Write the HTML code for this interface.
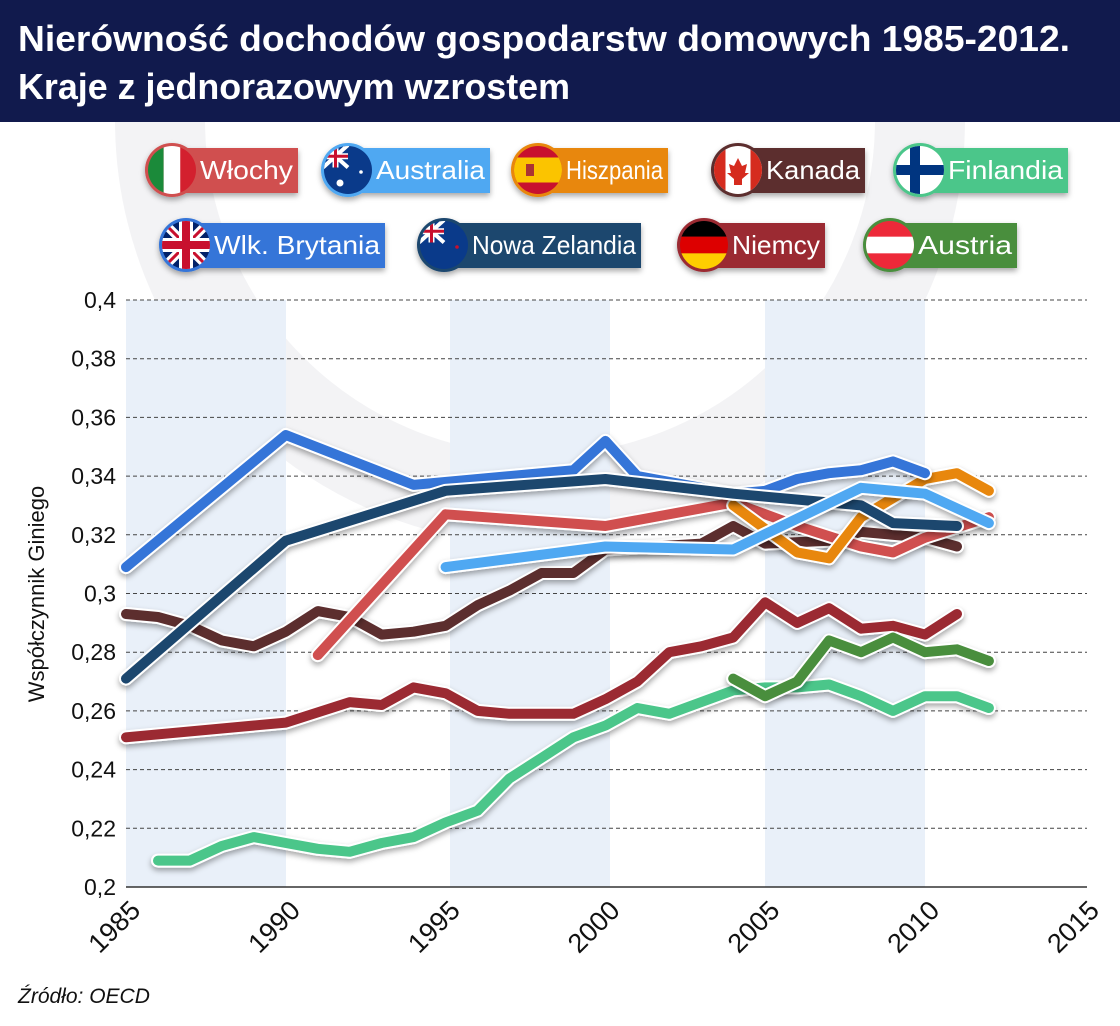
<!DOCTYPE html>
<html><head><meta charset="utf-8"><style>
body{margin:0;width:1120px;height:1021px;overflow:hidden;background:#fff;font-family:"Liberation Sans",sans-serif}
</style></head><body>
<svg id="s" width="1120" height="1021" xmlns="http://www.w3.org/2000/svg" font-family="Liberation Sans, sans-serif">
<defs>
<filter id="sh" x="-10%" y="-10%" width="120%" height="130%"><feDropShadow dx="0" dy="3" stdDeviation="3" flood-color="#000" flood-opacity="0.35"/></filter>
</defs>
<rect width="1120" height="1021" fill="#fff"/>
<circle cx="540" cy="120" r="380" fill="none" stroke="#f3f3f5" stroke-width="90"/>
<rect x="126" y="300" width="160" height="587" fill="#e9f0f9"/>
<rect x="450" y="300" width="160" height="587" fill="#e9f0f9"/>
<rect x="765" y="300" width="160" height="587" fill="#e9f0f9"/>
<rect width="1120" height="122" fill="#111a4d"/>
<text x="18" y="51" fill="#fff" font-size="36" font-weight="bold" textLength="1052" lengthAdjust="spacingAndGlyphs">Nierówność dochodów gospodarstw domowych 1985-2012.</text>
<text x="18" y="99" fill="#fff" font-size="36" font-weight="bold" textLength="552" lengthAdjust="spacingAndGlyphs">Kraje z jednorazowym wzrostem</text>
<g id="grid"></g>
<g id="lines"></g>
<g id="leg"></g>
<text transform="translate(44,594) rotate(-90)" text-anchor="middle" font-size="22" fill="#111">Współczynnik Giniego</text>
<text x="18" y="1003" font-size="21" font-style="italic" fill="#111">Źródło: OECD</text>
</svg>
<script>
var NS="http://www.w3.org/2000/svg",s=document.getElementById('s');
function el(p,t,a,txt){var e=document.createElementNS(NS,t);for(var k in a)e.setAttribute(k,a[k]);if(txt)e.textContent=txt;p.appendChild(e);return e;}
var X=function(y){return 126+(y-1985)*31.96},Y=function(v){return 887-(v-0.2)*2935};
var g=document.getElementById('grid');
for(var i=0;i<=10;i++){var v=0.2+i*0.02,y=Y(v);
 if(i>0)el(g,'line',{x1:126,x2:1087,y1:y,y2:y,stroke:'#444','stroke-width':1,'stroke-dasharray':'4,3'});
 el(g,'text',{x:116,y:y+8,'text-anchor':'end','font-size':23,fill:'#111'},v.toFixed(2).replace(/0+$/,'').replace(/\.$/,'').replace('.',','));}
el(g,'line',{x1:126,x2:1087,y1:887,y2:887,stroke:'#333','stroke-width':1.5});
for(var yr=1985;yr<=2015;yr+=5){var x=X(yr);el(g,'text',{transform:'translate('+(x+16)+',912) rotate(-45)','text-anchor':'end','font-size':27,fill:'#111'},''+yr);}
var D=[
['#9b2a32',[[1985,.251],[1990,.256],[1992,.263],[1993,.262],[1994,.268],[1995,.266],[1996,.260],[1997,.259],[1999,.259],[2000,.264],[2001,.270],[2002,.280],[2003,.282],[2004,.285],[2005,.297],[2006,.290],[2007,.295],[2008,.288],[2009,.289],[2010,.286],[2011,.293]]],
['#4bc68a',[[1986,.209],[1987,.209],[1988,.214],[1989,.217],[1990,.215],[1991,.213],[1992,.212],[1993,.215],[1994,.217],[1995,.222],[1996,.226],[1997,.237],[1998,.244],[1999,.251],[2000,.255],[2001,.261],[2002,.259],[2003,.263],[2004,.267],[2005,.268],[2006,.268],[2007,.269],[2008,.265],[2009,.260],[2010,.265],[2011,.265],[2012,.261]]],
['#4a8e3e',[[2004,.271],[2005,.265],[2006,.270],[2007,.284],[2008,.280],[2009,.285],[2010,.280],[2011,.281],[2012,.277]]],
['#5c2d2f',[[1985,.293],[1986,.292],[1987,.289],[1988,.284],[1989,.282],[1990,.287],[1991,.294],[1992,.292],[1993,.286],[1994,.287],[1995,.289],[1996,.296],[1997,.301],[1998,.307],[1999,.307],[2000,.315],[2003,.317],[2004,.323],[2005,.317],[2007,.318],[2008,.321],[2010,.319],[2011,.316]]],
['#d04f4f',[[1991,.279],[1995,.327],[2000,.323],[2004,.331],[2006,.323],[2008,.316],[2009,.314],[2010,.319],[2012,.326]]],
['#e8870a',[[2004,.330],[2006,.314],[2007,.312],[2008,.326],[2010,.339],[2011,.341],[2012,.335]]],
['#3575d8',[[1985,.309],[1990,.354],[1994,.337],[1999,.342],[2000,.352],[2001,.340],[2004,.334],[2005,.335],[2006,.339],[2007,.341],[2008,.342],[2009,.345],[2010,.341]]],
['#1d466e',[[1985,.271],[1990,.318],[1995,.335],[2000,.339],[2004,.334],[2008,.330],[2009,.324],[2011,.323]]],
['#4fa8f2',[[1995,.309],[2000,.316],[2004,.315],[2008,.336],[2010,.334],[2012,.324]]]
];
var L=document.getElementById('lines');
D.forEach(function(d){var p=d[1].map(function(q){return X(q[0]).toFixed(1)+','+Y(q[1]).toFixed(1)}).join(' ');
 var gg=el(L,'g',{filter:'url(#sh)'});
 el(gg,'polyline',{points:p,fill:'none',stroke:'#fff','stroke-width':14,'stroke-linejoin':'round','stroke-linecap':'round'});
 el(gg,'polyline',{points:p,fill:'none',stroke:d[0],'stroke-width':10,'stroke-linejoin':'round','stroke-linecap':'round'});});
var G=document.getElementById('leg');
var items=[
['Włochy','#d04f4f',172,298,170,'it'],['Australia','#4fa8f2',348,490,170,'au'],['Hiszpania','#e8870a',538,668,170,'es'],['Kanada','#5c2d2f',738,865,170,'ca'],['Finlandia','#4bc68a',920,1068,170,'fi'],
['Wlk. Brytania','#3575d8',186,385,245,'uk'],['Nowa Zelandia','#1d466e',444,641,245,'nz'],['Niemcy','#9b2a32',704,825,245,'de'],['Austria','#4a8e3e',890,1017,245,'at']];
items.forEach(function(it,i){var cx=it[2],cy=it[4],r=25,c=it[1];
 var gg=el(G,'g',{filter:'url(#sh)'});
 el(gg,'rect',{x:cx,y:cy-22,width:it[3]-cx,height:45,fill:c});
 el(gg,'circle',{cx:cx,cy:cy,r:r+2,fill:c});
 var cp=el(G,'clipPath',{id:'c'+i});el(cp,'circle',{cx:cx,cy:cy,r:r-1});
 var f=el(G,'g',{'clip-path':'url(#c'+i+')'});var x0=cx-r,y0=cy-r,w=2*r;
 function R(x,y,ww,hh,col){el(f,'rect',{x:x,y:y,width:ww,height:hh,fill:col});}
 switch(it[5]){
 case 'it':R(x0,y0,w/3,w,'#1b8a3a');R(x0+w/3,y0,w/3,w,'#fff');R(x0+2*w/3,y0,w/3,w,'#d3202e');break;
 case 'es':R(x0,y0,w,w,'#c8102e');R(x0,y0+w/4,w,w/2,'#fbc400');R(cx-12,cy-6,8,12,'#a33');break;
 case 'ca':R(x0,y0,w,w,'#fff');R(x0,y0,w/4,w,'#d52b1e');R(x0+3*w/4,y0,w/4,w,'#d52b1e');el(f,'path',{d:'M'+cx+','+(cy-12)+' l4,8 5,-2 -2,9 4,0 -7,6 0,6 -8,0 0,-6 -7,-6 4,0 -2,-9 5,2z',fill:'#d52b1e'});break;
 case 'fi':R(x0,y0,w,w,'#fff');R(x0,cy-5,w,10,'#003580');R(cx-10,y0,10,w,'#003580');break;
 case 'de':R(x0,y0,w,w/3,'#000');R(x0,y0+w/3,w,w/3,'#dd0000');R(x0,y0+2*w/3,w,w/3,'#ffce00');break;
 case 'at':R(x0,y0,w,w,'#ed2939');R(x0,y0+w/3,w,w/3,'#fff');break;
 case 'uk':R(x0,y0,w,w,'#012169');el(f,'path',{d:'M'+x0+','+y0+'L'+(x0+w)+','+(y0+w)+'M'+(x0+w)+','+y0+'L'+x0+','+(y0+w),stroke:'#fff','stroke-width':9});el(f,'path',{d:'M'+x0+','+y0+'L'+(x0+w)+','+(y0+w)+'M'+(x0+w)+','+y0+'L'+x0+','+(y0+w),stroke:'#c8102e','stroke-width':3});R(cx-7,y0,14,w,'#fff');R(x0,cy-7,w,14,'#fff');R(cx-4,y0,8,w,'#c8102e');R(x0,cy-4,w,8,'#c8102e');break;
 default:R(x0,y0,w,w,'#0a3a8a');var ux=x0,uy=y0,uw=r,uh=r*0.9;R(ux,uy,uw,uh,'#0a3a8a');el(f,'path',{d:'M'+ux+','+uy+'L'+(ux+uw)+','+(uy+uh)+'M'+(ux+uw)+','+uy+'L'+ux+','+(uy+uh),stroke:'#fff','stroke-width':4});R(ux+uw/2-3,uy,6,uh,'#fff');R(ux,uy+uh/2-3,uw,6,'#fff');R(ux+uw/2-1.5,uy,3,uh,'#c8102e');R(ux,uy+uh/2-1.5,uw,3,'#c8102e');
   el(f,'circle',{cx:cx+13,cy:cy+2,r:1.8,fill:it[5]=='au'?'#fff':'#c8102e'});if(it[5]=='au')el(f,'circle',{cx:cx-8,cy:cy+13,r:3.5,fill:'#fff'});
 }
 var tx=cx+r+3,tl=it[3]-tx-5;
 el(G,'text',{x:tx,y:cy+9,'font-size':26,fill:'#fff',textLength:tl,lengthAdjust:'spacingAndGlyphs'},it[0]);
});
</script>
</body></html>
